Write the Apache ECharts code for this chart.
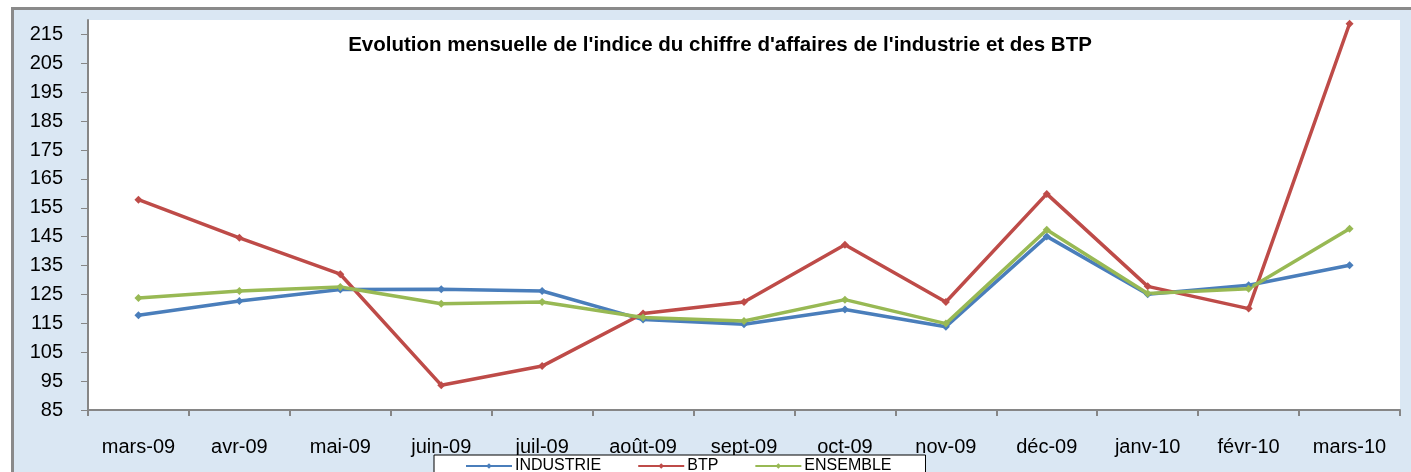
<!DOCTYPE html>
<html>
<head>
<meta charset="utf-8">
<script src="https://cdn.jsdelivr.net/npm/echarts@6/dist/echarts.min.js"></script>
<style>
html,body{margin:0;padding:0;background:#fff;}
#c{width:1411px;height:472px;}
</style>
</head>
<body>
<div id="c"></div>
<script>
const categories = ['mars-09','avr-09','mai-09','juin-09','juil-09','août-09','sept-09','oct-09','nov-09','déc-09','janv-10','févr-10','mars-10'];
const industrie = [117.8, 122.7, 126.7, 126.8, 126.2, 116.3, 114.7, 119.8, 113.8, 145.1, 125.1, 128.2, 135.1];
const btp = [157.8, 144.6, 132.0, 93.6, 100.2, 118.4, 122.4, 142.2, 122.4, 159.8, 127.8, 120.1, 218.7];
const ensemble = [123.8, 126.2, 127.6, 121.8, 122.4, 117.0, 115.8, 123.2, 114.9, 147.4, 125.3, 127.0, 147.7];
const seriesNames = ['INDUSTRIE','BTP','ENSEMBLE'];
const colors = ['#4a7ebb','#be4b48','#98b954'];
const title = "Evolution mensuelle de l'indice du chiffre d'affaires de l'industrie et des BTP";

const chart = echarts.init(document.getElementById('c'), null, {renderer:'canvas'});
const font = 'Liberation Sans, Arial, sans-serif';
function mk(name, data, color){
  return {
    name: name, type: 'line', data: data,
    symbol: 'diamond', symbolSize: 8,
    lineStyle: {width: 3.5, color: color},
    itemStyle: {color: color},
    emphasis: {disabled: true},
    animation: false
  };
}
chart.setOption({
  backgroundColor: '#ffffff',
  animation: false,
  graphic: [{
    type: 'rect', z: -10, silent: true,
    shape: {x: 12.5, y: 8.5, width: 1410, height: 480},
    style: {fill: '#dae7f3', stroke: '#8a8a8a', lineWidth: 3}
  }],
  title: {
    text: title, left: 715, top: 30, textAlign: 'center',
    textStyle: {fontFamily: font, fontSize: 20.5, fontWeight: 'bold', color: '#000'}
  },
  legend: {
    data: seriesNames, left: 434, top: 455,
    backgroundColor: '#fff', borderColor: '#000', borderWidth: 1,
    padding: [3, 34, 20, 31], itemWidth: 46, itemHeight: 7, itemGap: 36,
    textStyle: {fontFamily: font, fontSize: 16, color: '#000', padding: [0,0,0,-2]}
  },
  grid: {
    left: 88, top: 20, right: 11, bottom: 62,
    show: true, backgroundColor: '#ffffff', borderWidth: 0
  },
  xAxis: {
    type: 'category', data: categories, boundaryGap: true,
    axisLine: {lineStyle: {color: '#868686', width: 2}},
    axisTick: {show: true, length: 6, lineStyle: {color: '#868686', width: 2}},
    axisLabel: {fontFamily: font, fontSize: 20, color: '#000', margin: 27, interval: 0}
  },
  yAxis: {
    type: 'value', min: 85, max: 220, interval: 10,
    splitLine: {show: false},
    axisLine: {show: true, lineStyle: {color: '#868686', width: 2}},
    axisTick: {show: true, length: 7, lineStyle: {color: '#868686', width: 1}},
    axisLabel: {fontFamily: font, fontSize: 20, color: '#000', margin: 25, showMaxLabel: false}
  },
  series: [mk(seriesNames[0], industrie, colors[0]), mk(seriesNames[1], btp, colors[1]), mk(seriesNames[2], ensemble, colors[2])]
});
</script>
</body>
</html>
